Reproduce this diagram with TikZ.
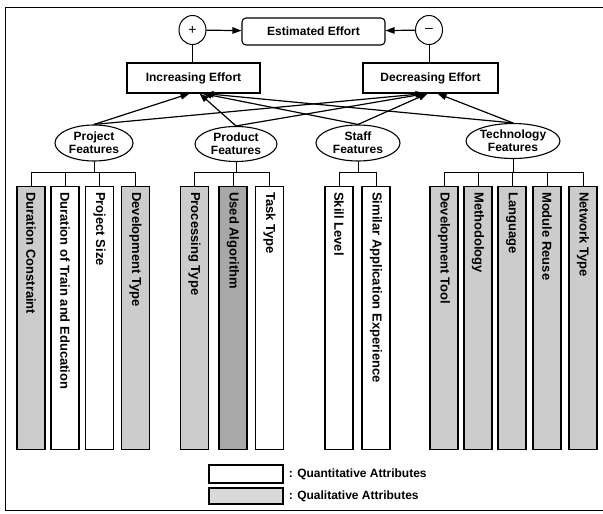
\documentclass[tikz,border=0pt]{standalone}
\usepackage{fontspec}
\setmainfont{Liberation Sans}
\usetikzlibrary{arrows.meta,shapes.geometric}

\begin{document}
\begin{tikzpicture}[x=1pt,y=-1pt,
  font=\bfseries\fontsize{12}{13}\selectfont,
  topbox/.style={draw, line width=1.1pt, inner sep=0, minimum height=30pt},
  sign/.style={draw, ellipse, line width=1pt, inner sep=0,
    minimum width=27pt, minimum height=29pt, font=\fontsize{14}{14}\selectfont},
  feature/.style={draw, ellipse, line width=1.1pt, inner sep=0, align=center},
  attr/.style={draw, line width=1.4pt, inner sep=0, anchor=north,
    minimum width=28pt, minimum height=263pt},
  quant/.style={attr, fill=white},
  qual/.style={attr, fill=black!20},
  qualdark/.style={attr, fill=black!34},
  vlabel/.style={rotate=-90, anchor=west, inner sep=0,
    font=\bfseries\fontsize{13}{13}\selectfont},
  link/.style={line width=1.2pt, -{Triangle[length=9pt,width=6.5pt]}},
  tree/.style={line width=1pt},
  frame/.style={line width=1pt}]

\useasboundingbox (0,0) rectangle (603,514);

% outer frame
\draw[frame] (603,7) -- (5,7) -- (5,510) -- (603,510);

% result and its two contributions
\node[topbox, rounded corners=4pt, minimum width=143pt, minimum height=27pt]
  (est) at (313.5,31.5) {Estimated Effort};
\node[sign] (plus)  at (192.5,30) {+};
\node[sign] (minus) at (429,30) {--};
\node[topbox, minimum width=133pt] (inc) at (193.5,78) {Increasing Effort};
\node[topbox, minimum width=135pt] (dec) at (430.5,78) {Decreasing Effort};

\draw[link] (plus) -- (est);
\draw[link] (minus) -- (est);
\draw[line width=1pt] (plus.south) -- (plus.south |- inc.north);
\draw[line width=1pt] (minus.south) -- (minus.south |- dec.north);

% feature groups
\node[feature, minimum width=78pt, minimum height=36pt] (proj) at (94,143)  {Project\\Features};
\node[feature, minimum width=82pt, minimum height=35pt] (prod) at (236,144) {Product\\Features};
\node[feature, minimum width=84pt, minimum height=36pt] (staff) at (358,143) {Staff\\Features};
\node[feature, minimum width=90pt, minimum height=35pt] (tech) at (513,141) {Technology\\Features};

% arrows from the feature groups to both effort boxes
\coordinate (inc1) at ([xshift=-4pt]inc.south);
\coordinate (inc2) at ([xshift=6pt]inc.south);
\coordinate (inc3) at ([xshift=9pt]inc.south);
\coordinate (inc4) at ([xshift=11pt]inc.south);
\coordinate (dec1) at ([xshift=-6pt]dec.south);
\coordinate (dec2) at ([xshift=-4pt]dec.south);
\coordinate (dec3) at ([xshift=-3pt]dec.south);
\coordinate (dec4) at ([xshift=7pt]dec.south);

\draw[link] (proj.north)  -- (inc1);
\draw[link] (prod.north)  -- (inc2);
\draw[link] (staff.north) -- (inc3);
\draw[link] (tech.north)  -- (inc4);
\draw[link] (proj.north)  -- (dec1);
\draw[link] (prod.north)  -- (dec2);
\draw[link] (staff.north) -- (dec3);
\draw[link] (tech.north)  -- (dec4);

% attribute boxes
\node[qual]     (a1)  at (31,186)    {};
\node[quant]    (a2)  at (65,186)    {};
\node[quant]    (a3)  at (99.5,186)  {};
\node[qual]     (a4)  at (135.5,186) {};
\node[qual]     (a5)  at (194.5,186) {};
\node[qualdark] (a6)  at (233,186)   {};
\node[quant]    (a7)  at (269.5,186) {};
\node[quant]    (a8)  at (339,186)   {};
\node[quant]    (a9)  at (376,186)   {};
\node[qual]     (a10) at (444,186)   {};
\node[qual]     (a11) at (478,186)   {};
\node[qual]     (a12) at (512,186)   {};
\node[qual]     (a13) at (547,186)   {};
\node[qual]     (a14) at (583,186)   {};

\node[vlabel] (t1)  at ([yshift=-6pt]a1.north)  {Duration Constraint};
\node[vlabel] (t2)  at ([yshift=-6pt]a2.north)  {Duration of Train and Education};
\node[vlabel] (t3)  at ([yshift=-6pt]a3.north)  {Project Size};
\node[vlabel] (t4)  at ([yshift=-6pt]a4.north)  {Development Type};
\node[vlabel] (t5)  at ([yshift=-6pt]a5.north)  {Processing Type};
\node[vlabel] (t6)  at ([yshift=-6pt]a6.north)  {Used Algorithm};
\node[vlabel] (t7)  at ([yshift=-6pt]a7.north)  {Task Type};
\node[vlabel] (t8)  at ([yshift=-6pt]a8.north)  {Skill Level};
\node[vlabel] (t9)  at ([yshift=-6pt]a9.north)  {Similar Application Experience};
\node[vlabel] (t10) at ([yshift=-6pt]a10.north) {Development Tool};
\node[vlabel] (t11) at ([yshift=-6pt]a11.north) {Methodology};
\node[vlabel] (t12) at ([yshift=-6pt]a12.north) {Language};
\node[vlabel] (t13) at ([yshift=-6pt]a13.north) {Module Reuse};
\node[vlabel] (t14) at ([yshift=-6pt]a14.north) {Network Type};

% tree connectors from each group to its attributes
\coordinate (bus) at (0,172);
\foreach \g/\list in {proj/{a1,a2,a3,a4}, prod/{a5,a6,a7},
                      staff/{a8,a9}, tech/{a10,a11,a12,a13,a14}} {
  \foreach \b in \list {
    \draw[tree] (\g.south) -- (\g.south |- bus) -| (\b.north);
  }
}

% legend
\node[draw, line width=1.3pt, minimum width=74pt, minimum height=18pt, inner sep=0, fill=white]
  (lq) at (246,474) {};
\node[draw, line width=1.3pt, minimum width=74pt, minimum height=16pt, inner sep=0, fill=black!15]
  (ll) at (246,496) {};
\node[anchor=west, inner sep=0] (lqt) at ([xshift=5pt]lq.east) {: Quantitative Attributes};
\node[anchor=west, inner sep=0] (llt) at ([xshift=5pt]ll.east) {: Qualitative Attributes};

\end{tikzpicture}
\end{document}
